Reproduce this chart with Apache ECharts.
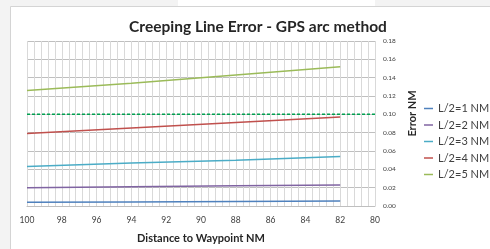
<!DOCTYPE html>
<html><head><meta charset="utf-8">
<script src="https://cdn.jsdelivr.net/npm/echarts@6/dist/echarts.min.js"></script>
<style>html,body{margin:0;padding:0;background:#f3f3f3}#c{width:490px;height:249px}</style>
</head><body><div id="c"></div>
<script>
const distances = [100, 94, 88, 82];
const seriesNames = ['L/2=1 NM', 'L/2=2 NM', 'L/2=3 NM', 'L/2=4 NM', 'L/2=5 NM'];
const err1 = [0.004, 0.0045, 0.005, 0.0055];
const err2 = [0.020, 0.021, 0.022, 0.023];
const err3 = [0.043, 0.047, 0.050, 0.054];
const err4 = [0.079, 0.085, 0.091, 0.097];
const err5 = [0.126, 0.134, 0.143, 0.152];
const thresholdX = [100, 80];
const thresholdY = [0.10, 0.10];
const colors = ['#4f81bd', '#8064a2', '#4bacc6', '#c0504d', '#9bbb59'];
const allErr = [err1, err2, err3, err4, err5];

const font = 'Lato, "Open Sans", sans-serif';
const chart = echarts.init(document.getElementById('c'), null, {renderer: 'canvas'});
const series = allErr.map((vals, i) => ({
  name: seriesNames[i], type: 'line', showSymbol: false, symbol: 'none',
  data: distances.map((d, j) => [d, vals[j]]),
  lineStyle: {color: colors[i], width: 1.5}, itemStyle: {color: colors[i]}
}));
series.push({
  name: 'limit', type: 'line', symbol: 'none',
  data: thresholdX.map((d, j) => [d, thresholdY[j]]),
  lineStyle: {color: '#00a050', width: 1.5, type: [3, 2]}
});
chart.setOption({
  animation: false,
  backgroundColor: '#f3f3f3',
  graphic: [
    {type: 'rect', shape: {x: 10.5, y: 6.5, width: 490, height: 260}, style: {fill: '#ffffff', stroke: '#d4d4d4', lineWidth: 1}, z: -10},
    {type: 'rect', shape: {x: 178, y: 0, width: 197, height: 6}, style: {fill: '#ffffff'}, z: -10}
  ],
  title: {
    text: 'Creeping Line Error - GPS arc method', left: 253, top: 14, textAlign: 'center',
    textStyle: {fontFamily: font, fontSize: 15.5, fontWeight: 'bold', color: '#262626'}
  },
  legend: {
    data: seriesNames, orient: 'vertical', left: 424, top: 103, padding: 0, itemWidth: 9, itemHeight: 1.5,
    itemGap: 5.5, icon: 'rect',
    textStyle: {fontFamily: font, fontSize: 11, color: '#404040'}
  },
  grid: {left: 27, right: 115, top: 41, bottom: 35},
  xAxis: {
    type: 'value', min: 80, max: 100, interval: 2, inverse: true,
    name: 'Distance to Waypoint NM', nameLocation: 'middle', nameGap: 27,
    nameTextStyle: {fontFamily: font, fontSize: 11, fontWeight: 'bold', color: '#262626'},
    axisLine: {show: true, lineStyle: {color: '#bfbfbf'}},
    axisTick: {show: false},
    axisLabel: {fontFamily: font, fontSize: 8.5, color: '#404040', margin: 10},
    splitLine: {show: true, lineStyle: {color: '#d9d9d9', width: 1}},
    minorTick: {show: false, splitNumber: 5},
    minorSplitLine: {show: true, lineStyle: {color: '#d9d9d9', width: 1}}
  },
  yAxis: {
    type: 'value', position: 'right', min: 0, max: 0.18, interval: 0.02,
    name: 'Error NM', nameLocation: 'middle', nameGap: 27, nameRotate: 90,
    nameTextStyle: {fontFamily: font, fontSize: 11, fontWeight: 'bold', color: '#262626', padding: [0, 0, 0, 20]},
    axisLine: {show: false}, axisTick: {show: false},
    axisLabel: {fontFamily: font, fontSize: 6.5, color: '#404040', margin: 8, formatter: v => v.toFixed(2)},
    splitLine: {show: true, lineStyle: {color: '#bfbfbf', width: 1}}
  },
  series: series
});
</script></body></html>
